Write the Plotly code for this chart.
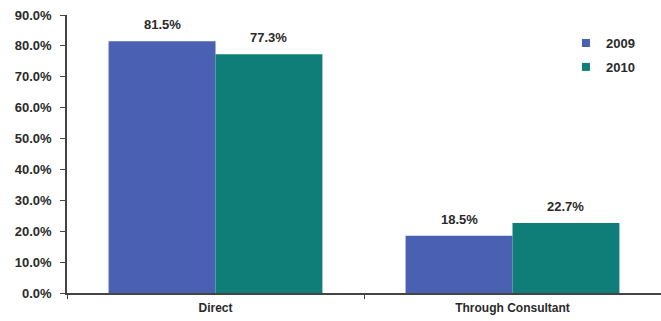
import plotly.graph_objects as go

categories = ["Direct", "Through Consultant"]
series_names = ["2009", "2010"]
values_2009 = [81.5, 18.5]
values_2010 = [77.3, 22.7]
colors = ["#4a60b2", "#0f7e79"]
y_ticks = [0, 10, 20, 30, 40, 50, 60, 70, 80, 90]

FONT = "Arial, Liberation Sans"
TXT = "#2a2a2a"

fig = go.Figure()
for name, vals, col in zip(series_names, [values_2009, values_2010], colors):
    fig.add_trace(go.Bar(
        x=categories, y=vals, name=name, marker=dict(color=col, line=dict(width=0)),
        offsetgroup=name, showlegend=False,
    ))
    fig.add_trace(go.Scatter(
        x=[None], y=[None], mode="markers", name=name, legendgroup=name,
        marker=dict(symbol="square", size=8, color=col), showlegend=True,
    ))

annotations = []
for i, (name, vals) in enumerate(zip(series_names, [values_2009, values_2010])):
    for j, v in enumerate(vals):
        annotations.append(dict(
            x=j + (-0.18 if i == 0 else 0.18), xref="x", y=v, yref="y",
            text=f"<b>{v:.1f}%</b>", showarrow=False, yanchor="bottom", yshift=7,
            font=dict(family=FONT, size=13, color=TXT),
        ))

fig.update_layout(
    width=661, height=321,
    margin=dict(l=67, r=0, t=15, b=28, autoexpand=False),
    paper_bgcolor="white", plot_bgcolor="white",
    barmode="group", bargap=0.28, bargroupgap=0,
    font=dict(family=FONT, size=11, color=TXT),
    showlegend=True,
    legend=dict(x=0.840, y=0.953, xanchor="left", yanchor="top",
                font=dict(family=FONT, size=13, color=TXT, weight="bold"),
                bgcolor="rgba(0,0,0,0)", itemwidth=30, tracegroupgap=4,
                traceorder="grouped"),
    annotations=annotations,
    xaxis=dict(showline=True, linecolor="#444444", linewidth=1.5,
               ticks="outside", ticklen=4, tickcolor="#444444", tickson="boundaries",
               showgrid=False,
               tickfont=dict(family=FONT, size=12, color=TXT, weight="bold"),
               ticklabelstandoff=3, range=[-0.5, 1.5]),
    yaxis=dict(range=[0, 90], tickvals=y_ticks,
               ticktext=[f"{t:.1f}%" for t in y_ticks],
               showline=True, linecolor="#444444", linewidth=1.5,
               ticks="outside", ticklen=5, tickcolor="#444444",
               showgrid=False, zeroline=False, ticklabelstandoff=6,
               tickfont=dict(family=FONT, size=13, color=TXT, weight="bold")),
)

fig.write_html("out.html")
